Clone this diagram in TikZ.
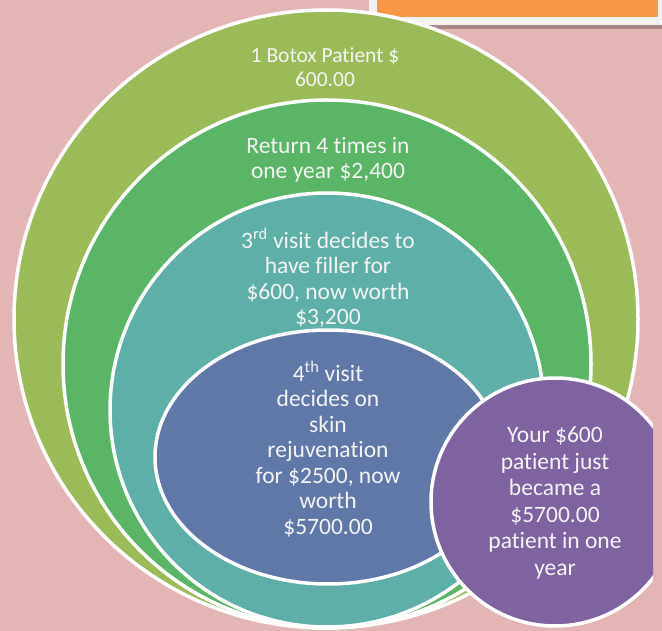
\documentclass[tikz,border=0pt]{standalone}
\usepackage{fontspec}
\setmainfont[Ligatures=NoCommon]{Carlito}
\definecolor{bgpink}{HTML}{E4B5B5}
\definecolor{banner}{HTML}{F79646}
\definecolor{ringA}{HTML}{9BBB59}
\definecolor{ringB}{HTML}{5BB566}
\definecolor{ringC}{HTML}{5DAFA7}
\definecolor{ringD}{HTML}{6078A8}
\definecolor{ringE}{HTML}{7F63A1}
\definecolor{txt}{HTML}{F4F4F4}

\begin{document}
\begin{tikzpicture}[x=1pt, y=-1pt,
    ring/.style={draw=white, line width=3.5pt},
    lbl/.style={text=txt, align=center, font=\fontsize{23.5}{25.5}\selectfont}]
  \useasboundingbox (0,0) rectangle (662,631);
  \fill[bgpink] (0,0) rectangle (662,631);

  % banner in the corner
  \fill[black, opacity=0.25] (372,0) rectangle (662,29);
  \fill[white!95!black] (369,0) rectangle (662,25);
  \fill[banner] (377,0) rectangle (658,17);

  % rings, outer to inner
  \draw[ring, fill=ringA] (326,319) ellipse [x radius=312pt, y radius=309pt];
  \draw[ring, fill=ringB] (327,364) circle [radius=264pt];
  \draw[ring, fill=ringC] (327,410) circle [radius=217pt];
  \draw[ring, fill=ringD] (328,457) ellipse [x radius=173pt, y radius=127pt];
  \begin{scope}
    \clip (0,0) rectangle (653,631);
    \draw[ring, fill=ringE] (555,502) circle [radius=124pt];
  \end{scope}

  \node[lbl, font=\fontsize{21.5}{24}\selectfont] (botox) at (325,67) {1 Botox Patient \$\\600.00};
  \node[lbl] (return) at (328,160) {Return 4 times in\\one year \$2,400};
  \node[lbl] (third) at (328,278) {3\textsuperscript{rd} visit decides to\\have filler for\\\$600, now worth\\\$3,200};
  \node[lbl] (fourth) at (328,449) {4\textsuperscript{th} visit\\decides on\\skin\\rejuvenation\\for \$2500, now\\worth\\\$5700.00};
  \node[lbl, font=\fontsize{23.5}{26.5}\selectfont] (result) at (555,503) {Your \$600\\patient just\\became a\\\$5700.00\\patient in one\\year};
\end{tikzpicture}
\end{document}
